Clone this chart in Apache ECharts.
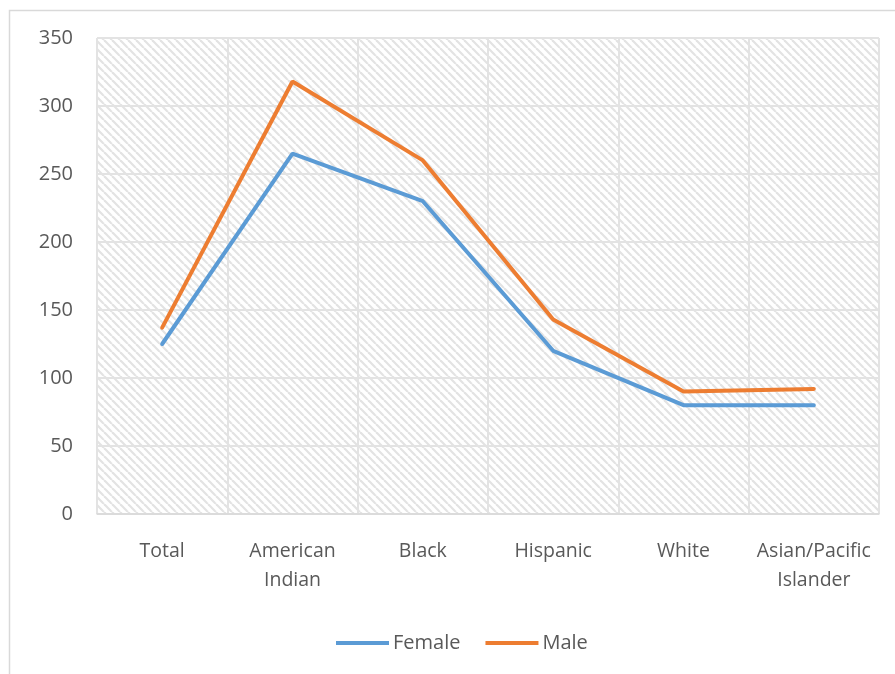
<!DOCTYPE html>
<html>
<head>
<meta charset="utf-8">
<script src="https://cdn.jsdelivr.net/npm/echarts@6/dist/echarts.min.js"></script>
<style>
  html, body { margin: 0; padding: 0; background: #fff; }
  #chart { width: 895px; height: 674px; }
</style>
</head>
<body>
<div id="chart"></div>
<script>
// Rates by group and sex
const categories = ['Total', 'American\nIndian', 'Black', 'Hispanic', 'White', 'Asian/Pacific\nIslander'];
const femaleValues = [125, 265, 230, 120, 80, 80];
const maleValues = [137, 318, 260, 143, 90, 92];
const yTicks = { min: 0, max: 350, interval: 50 };

// Diagonal hatch tile for the plot area
function hatchTile() {
  const s = 8;
  const c = document.createElement('canvas');
  c.width = s; c.height = s;
  const g = c.getContext('2d');
  g.fillStyle = '#ffffff';
  g.fillRect(0, 0, s, s);
  g.strokeStyle = '#e3e3e3';
  g.lineWidth = 2.2;
  for (let k = -1; k <= 1; k++) {
    g.beginPath();
    g.moveTo(k * s, 0);
    g.lineTo(k * s + s, s);
    g.stroke();
  }
  return c;
}

const font = '"Open Sans", "DejaVu Sans", sans-serif';
const chart = echarts.init(document.getElementById('chart'));
chart.setOption({
  animation: false,
  backgroundColor: '#ffffff',
  graphic: [{
    type: 'rect',
    shape: { x: 9.5, y: 10.5, width: 900, height: 700 },
    style: { fill: 'none', stroke: '#d9d9d9', lineWidth: 1.5 },
    silent: true,
    z: -10
  }],
  grid: {
    left: 97, top: 38, width: 782, height: 476,
    show: true,
    backgroundColor: { image: hatchTile(), repeat: 'repeat' },
    borderColor: '#e3e3e3',
    borderWidth: 1
  },
  legend: {
    bottom: 16,
    left: 331,
    itemWidth: 53,
    itemHeight: 4,
    itemGap: 25,
    icon: 'rect',
    textStyle: { fontFamily: font, fontSize: 20, color: '#595959', padding: [0, 0, 0, -1] },
    data: ['Female', 'Male']
  },
  xAxis: {
    type: 'category',
    data: categories,
    boundaryGap: true,
    axisLine: { lineStyle: { color: '#d9d9d9', width: 1.5 } },
    axisTick: { show: false },
    splitLine: { show: true, lineStyle: { color: '#e3e3e3', width: 2 } },
    axisLabel: {
      fontFamily: font, fontSize: 19.5, color: '#595959',
      margin: 23, lineHeight: 29, interval: 0
    }
  },
  yAxis: {
    type: 'value',
    min: yTicks.min, max: yTicks.max, interval: yTicks.interval,
    axisLine: { show: false },
    axisTick: { show: false },
    splitLine: { lineStyle: { color: '#e3e3e3', width: 2 } },
    axisLabel: { fontFamily: font, fontSize: 20, color: '#595959', margin: 24 }
  },
  series: [
    {
      name: 'Female', type: 'line', data: femaleValues,
      symbol: 'none', color: '#5b9bd5',
      lineStyle: { width: 4, color: '#5b9bd5', cap: 'round' }
    },
    {
      name: 'Male', type: 'line', data: maleValues,
      symbol: 'none', color: '#ed7d31',
      lineStyle: { width: 4, color: '#ed7d31', cap: 'round' }
    }
  ]
});
</script>
</body>
</html>
